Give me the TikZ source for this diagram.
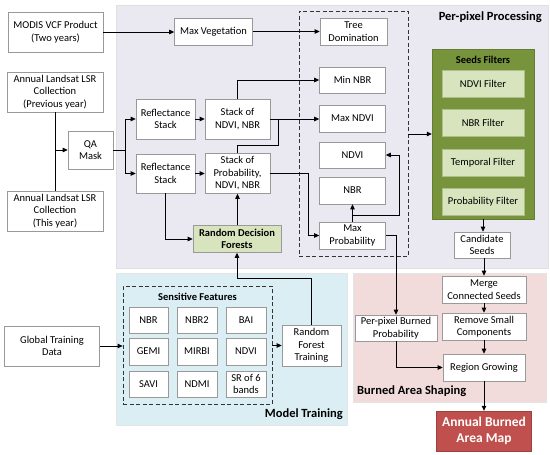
\documentclass[tikz,border=0pt]{standalone}
\usepackage{fontspec}
\setmainfont{Carlito}
\usetikzlibrary{arrows.meta}
\definecolor{ppbg}{HTML}{EAE8F1}
\definecolor{mtbg}{HTML}{DAEEF3}
\definecolor{basbg}{HTML}{F2DCDB}
\definecolor{sfgreen}{HTML}{77933C}
\definecolor{ltgreen}{HTML}{D7E4BD}
\definecolor{mapred}{HTML}{C0504D}
\begin{document}
\begin{tikzpicture}[x=1pt,y=-1pt,
  box/.style={draw=black!40, fill=white, line width=0.6pt, align=center, inner sep=1pt,
    font=\fontsize{10.5}{12.5}\selectfont},
  gbox/.style={box, fill=ltgreen},
  title/.style={font=\fontsize{12.5}{14}\selectfont\bfseries, inner sep=0pt},
  arr/.style={-{Triangle[length=5pt,width=4.5pt]}, line width=0.8pt},
  ln/.style={line width=0.8pt},
  dbox/.style={draw=black!80, dash pattern=on 4pt off 2.5pt, line width=0.8pt, inner sep=0pt},
]
\useasboundingbox (0,0) rectangle (550,455);
% background regions
\fill[ppbg, draw=black!12] (116,5) rectangle (548,268);
\fill[mtbg, draw=black!10] (116,273) rectangle (347,425);
\fill[basbg, draw=black!10] (353,273) rectangle (546,402);
\node[title, anchor=east] (pptitle) at (542,17) {Per-pixel Processing};
\node[title, anchor=east] (mttitle) at (343,414) {Model Training};
\node[title, anchor=west] (bastitle) at (357,391) {Burned Area Shaping};

% dashed box in per-pixel
\node[dbox, minimum width=109pt, minimum height=245pt] (pbox) at (353.5,133.5) {};

% left inputs
\node[box, minimum width=95pt, minimum height=40pt] (modis) at (55.5,32) {MODIS VCF Product\\(Two years)};
\node[box, minimum width=96pt, minimum height=40pt] (prev) at (55,92) {Annual Landsat LSR\\Collection\\(Previous year)};
\node[box, minimum width=96pt, minimum height=40pt] (thisyr) at (55,211) {Annual Landsat LSR\\Collection\\(This year)};
\node[box, minimum width=45pt, minimum height=38pt] (qa) at (90.5,150) {QA\\Mask};

% per-pixel processing
\node[box, minimum width=78pt, minimum height=27pt] (maxveg) at (213.5,31.5) {Max Vegetation};
\node[box, minimum width=59pt, minimum height=40pt] (refl1) at (165.5,119) {Reflectance\\Stack};
\node[box, minimum width=59pt, minimum height=39pt] (refl2) at (165.5,173.5) {Reflectance\\Stack};
\node[box, minimum width=65pt, minimum height=40pt] (stk1) at (237.5,119) {Stack of\\NDVI, NBR};
\node[box, minimum width=65pt, minimum height=40pt] (stk2) at (237.5,173.5) {Stack of\\Probability,\\NDVI, NBR};
\node[gbox, minimum width=88pt, minimum height=27pt, font=\fontsize{10.5}{12.5}\selectfont\bfseries] (rdf) at (237,239) {Random Decision\\Forests};

\node[box, minimum width=67pt, minimum height=27pt] (tree) at (353.5,31.5) {Tree\\Domination};
\node[box, minimum width=66pt, minimum height=26pt] (minnbr) at (352.5,80) {Min NBR};
\node[box, minimum width=66pt, minimum height=27pt] (maxndvi) at (352.5,118.5) {Max NDVI};
\node[box, minimum width=66pt, minimum height=26pt] (ndvi) at (352.5,155) {NDVI};
\node[box, minimum width=66pt, minimum height=27pt] (nbr) at (352.5,190.5) {NBR};
\node[box, minimum width=66pt, minimum height=27pt] (maxprob) at (352.5,235.5) {Max\\Probability};

% seeds filters
\node[draw=sfgreen!85!black, fill=sfgreen, minimum width=102pt, minimum height=170pt, inner sep=0pt] (seeds) at (483,134) {};
\node[font=\fontsize{10.5}{12.5}\selectfont\bfseries, inner sep=0pt] (seedstitle) at (483,60) {Seeds Filters};
\node[gbox, draw=sfgreen!60, minimum width=82pt, minimum height=27pt] (f1) at (483,83.5) {NDVI Filter};
\node[gbox, draw=sfgreen!60, minimum width=82pt, minimum height=27pt] (f2) at (483,123) {NBR Filter};
\node[gbox, draw=sfgreen!60, minimum width=82pt, minimum height=27pt] (f3) at (483,162.5) {Temporal Filter};
\node[gbox, draw=sfgreen!60, minimum width=82pt, minimum height=27pt] (f4) at (483,202) {Probability Filter};
\node[box, minimum width=56pt, minimum height=26pt] (cand) at (482,245) {Candidate\\Seeds};

% burned area shaping
\node[box, minimum width=84pt, minimum height=27pt] (merge) at (484,289.5) {Merge\\Connected Seeds};
\node[box, minimum width=84pt, minimum height=27pt] (remove) at (484,326.5) {Remove Small\\Components};
\node[box, minimum width=82pt, minimum height=27pt] (region) at (484,367.5) {Region Growing};
\node[box, minimum width=82pt, minimum height=26pt] (ppburn) at (396,328) {Per-pixel Burned\\Probability};
\node[draw=mapred!80!black, fill=mapred, text=white, align=center, minimum width=95pt, minimum height=40pt,
  font=\fontsize{13.5}{16}\selectfont\bfseries, inner sep=0pt] (abam) at (484,431) {Annual Burned\\Area Map};

% model training
\node[box, minimum width=95pt, minimum height=40pt] (gtd) at (52,346) {Global Training\\Data};
\node[box, minimum width=59pt, minimum height=41pt] (rft) at (311.5,345.5) {Random\\Forest\\Training};
\node[dbox, minimum width=149pt, minimum height=118pt] (sfbox) at (197.5,345) {};
\node[font=\fontsize{10.5}{12.5}\selectfont\bfseries, inner sep=0pt] (sftitle) at (197.5,297) {Sensitive Features};
\node[box, minimum width=39pt, minimum height=26pt] (c11) at (148.5,320) {NBR};
\node[box, minimum width=40pt, minimum height=26pt] (c12) at (197,320) {NBR2};
\node[box, minimum width=40pt, minimum height=26pt] (c13) at (246,320) {BAI};
\node[box, minimum width=39pt, minimum height=27pt] (c21) at (148.5,351.5) {GEMI};
\node[box, minimum width=40pt, minimum height=27pt] (c22) at (197,351.5) {MIRBI};
\node[box, minimum width=40pt, minimum height=27pt] (c23) at (246,351.5) {NDVI};
\node[box, minimum width=39pt, minimum height=26pt] (c31) at (148.5,384) {SAVI};
\node[box, minimum width=40pt, minimum height=26pt] (c32) at (197,384) {NDMI};
\node[box, minimum width=40pt, minimum height=26pt] (c33) at (246,384) {SR of 6\\bands};

% connectors
\coordinate (qin) at (55,150);
\coordinate (j1) at (278,119);
\coordinate (j2) at (352.5,215);
\draw[arr] (modis.east) -- (modis.east -| maxveg.west);
\draw[arr] (maxveg.east) -- (maxveg.east -| tree.west);
\draw[ln] (prev.south) -- (thisyr.north);
\draw[arr] (qin) -- (qa.west);
\draw[arr] (qa.east) -- ++(12,0) |- (refl1.west);
\draw[arr] (qa.east) -- ++(12,0) |- (refl2.west);
\draw[arr] (refl1.east) -- (stk1.west);
\draw[arr] (refl2.east) -- (stk2.west);
\draw[arr] (refl2.south) |- (rdf.west);
\draw[arr] (rdf.north -| stk2.south) -- (stk2.south);
\draw[arr] (stk1.north) |- (minnbr.west);
\draw[arr] (stk1.east) -- (stk1.east -| maxndvi.west);
\draw[ln] (stk2.north) -- ++(0,-7.5) -| (j1);
\draw[arr] (stk2.east) -- ++(38,0) |- (maxprob.west);
\draw[arr] (maxprob.north) -- (nbr.south);
\draw[arr] (j2) -- ++(46.5,0) |- (ndvi.east);
\draw[arr] (pbox.east |- seeds.west) -- (seeds.west);
\draw[arr] (seeds.south) -- (seeds.south |- cand.north);
\draw[arr] (cand.south -| merge.north) -- (merge.north);
\draw[arr] (merge.south) -- (remove.north);
\draw[arr] (remove.south) -- (region.north);
\draw[arr] (region.south) -- (abam.north);
\draw[arr] (maxprob.east) -| (ppburn.north);
\draw[arr] (ppburn.south) |- (region.west);
\draw[arr] (gtd.east) -- (gtd.east -| sfbox.west);
\draw[arr] (sfbox.east |- rft.west) -- (rft.west);
\draw[arr] (rft.north) -- ++(0,-46.5) -| (rdf.south);
\end{tikzpicture}
\end{document}
